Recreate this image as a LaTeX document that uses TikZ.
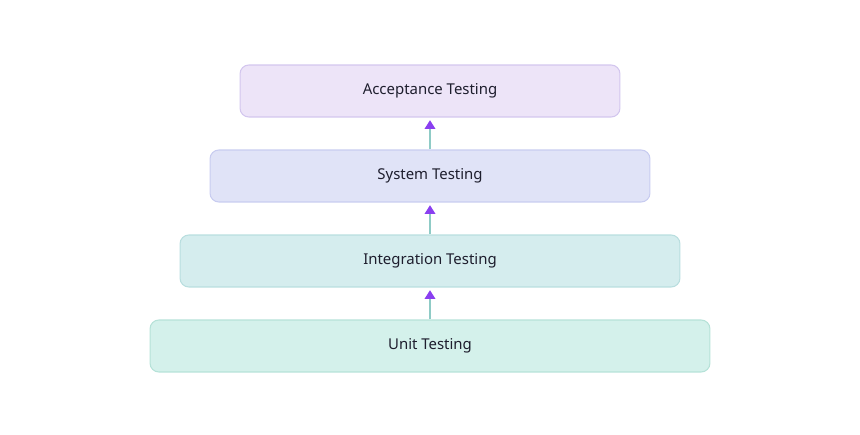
\documentclass[tikz,border=0pt]{standalone}
\usepackage{fontspec}
\setmainfont{Noto Sans}
\usetikzlibrary{arrows.meta}
\definecolor{accfill}{HTML}{EDE4F8}
\definecolor{accdraw}{HTML}{D3C6EE}
\definecolor{sysfill}{HTML}{E0E3F7}
\definecolor{sysdraw}{HTML}{C8CCF0}
\definecolor{intfill}{HTML}{D5EDEE}
\definecolor{intdraw}{HTML}{B9DEDF}
\definecolor{unitfill}{HTML}{D4F1EB}
\definecolor{unitdraw}{HTML}{B6E2D8}
\definecolor{linkline}{HTML}{8FCBC6}
\definecolor{linktip}{HTML}{8A3FF0}
\definecolor{labeltext}{HTML}{1E1E2E}
\tikzset{
  level/.style={rounded corners=5pt, line width=0.6pt, inner sep=0pt,
    minimum height=1.04cm, text=labeltext,
    font=\fontsize{8.5}{10}\selectfont\bfseries},
  link/.style={draw=linkline, line width=1pt,
    -{Triangle[color=linktip, length=5pt, width=6pt]}, shorten >=1.5pt}
}
\begin{document}
\begin{tikzpicture}[x=0.02cm, y=-0.02cm]
  \useasboundingbox (0,0) rectangle (860,435);
  % the four levels, widest at the bottom
  \node[level, fill=accfill, draw=accdraw, minimum width=7.6cm] (accept) at (430,91) {Acceptance Testing};
  \node[level, fill=sysfill, draw=sysdraw, minimum width=8.8cm] (system) at (430,176) {System Testing};
  \node[level, fill=intfill, draw=intdraw, minimum width=10cm] (integ) at (430,261) {Integration Testing};
  \node[level, fill=unitfill, draw=unitdraw, minimum width=11.2cm] (unit) at (430,346) {Unit Testing};
  % links upward
  \draw[link] (unit) -- (integ);
  \draw[link] (integ) -- (system);
  \draw[link] (system) -- (accept);
\end{tikzpicture}
\end{document}
